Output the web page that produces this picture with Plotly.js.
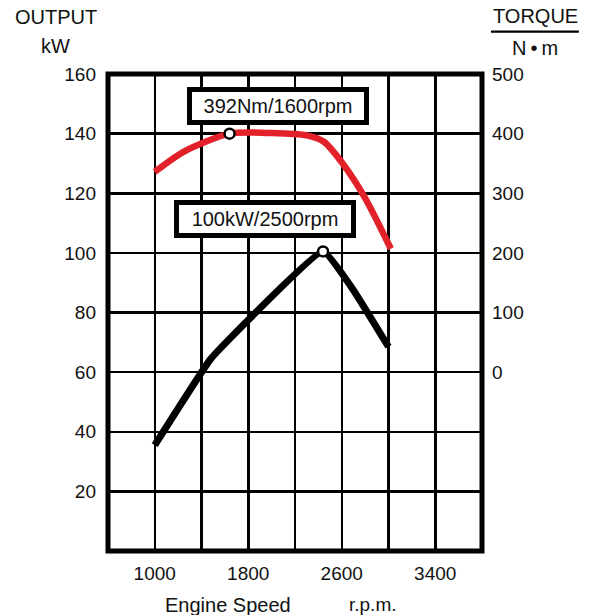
<!DOCTYPE html>
<html>
<head>
<meta charset="utf-8">
<script src="https://cdn.plot.ly/plotly-3.0.1.min.js"></script>
<style>html,body{margin:0;padding:0;background:#fff;}#chart{width:592px;height:615px;}</style>
</head>
<body>
<div id="chart"></div>
<script>
// Output curve (kW) vs engine speed (rpm)
const outputRpm = [1000, 1480, 1800, 2440, 2700, 3000];
const outputKw  = [35.5, 64.5, 77.5, 100.5, 87.5, 68.5];
// Torque curve (N·m) vs engine speed (rpm)
const torqueRpm = [1000, 1250, 1640, 2000, 2300, 2450, 2600, 2800, 3020];
const torqueNm  = [336, 370, 400, 401, 397, 386, 352, 292, 207];
// Peak points
const torquePeak = {rpm: 1640, nm: 400, label: "392Nm/1600rpm"};
const outputPeak = {rpm: 2440, kw: 100.5, label: "100kW/2500rpm"};
// Axis ticks
const xGridVals = [1000, 1400, 1800, 2200, 2600, 3000, 3400];
const xTickText = ["1000", "", "1800", "", "2600", "", "3400"];
const yLeftVals = [20, 40, 60, 80, 100, 120, 140, 160];
const yRightVals = [0, 100, 200, 300, 400, 500];

const FONT = "Liberation Sans, Arial, Helvetica, sans-serif";
const FS = 19;

const traces = [
  {x: torqueRpm, y: torqueNm, yaxis: "y2", mode: "lines",
   line: {color: "#e3212b", width: 6.5, shape: "spline", smoothing: 0.7}, hoverinfo: "none"},
  {x: outputRpm, y: outputKw, mode: "lines",
   line: {color: "#000", width: 7, shape: "spline", smoothing: 0.35}, hoverinfo: "none"},
  {x: [torquePeak.rpm], y: [torquePeak.nm], yaxis: "y2", mode: "markers",
   marker: {size: 10, color: "#fff", line: {color: "#000", width: 2.5}}, hoverinfo: "none"},
  {x: [outputPeak.rpm], y: [outputPeak.kw], mode: "markers",
   marker: {size: 10, color: "#fff", line: {color: "#000", width: 2.5}}, hoverinfo: "none"}
];

const boxAnn = (x, y, yref, text, ax, ay) => ({
  x: x, y: y, xref: "x", yref: yref, text: text, showarrow: true,
  arrowcolor: "rgba(0,0,0,0)", arrowwidth: 0.1, ax: ax, ay: ay,
  bgcolor: "#fff", bordercolor: "#000", borderwidth: 5, borderpad: 3,
  width: 166, font: {family: FONT, size: 20, color: "#111"}
});

const txt = (x, y, text, size) => ({
  x: x, y: y, xref: "paper", yref: "paper", text: text, showarrow: false,
  xanchor: "center", yanchor: "middle", font: {family: FONT, size: size || FS, color: "#111"}
});

const layout = {
  width: 592, height: 615,
  margin: {l: 108, r: 110, t: 74, b: 64},
  paper_bgcolor: "#fff", plot_bgcolor: "#fff",
  showlegend: false,
  font: {family: FONT, size: FS, color: "#111"},
  xaxis: {range: [600, 3800], tickvals: xGridVals, ticktext: xTickText,
          showgrid: true, gridcolor: "#000", gridwidth: 2.5, zeroline: false,
          ticks: "", ticklabelstandoff: 9, showline: false, fixedrange: true},
  yaxis: {range: [0, 160], tickvals: yLeftVals, showgrid: true, gridcolor: "#000", gridwidth: 2.5,
          zeroline: false, ticks: "", ticklabelstandoff: 11, showline: false, fixedrange: true},
  yaxis2: {range: [-300, 500], tickvals: yRightVals, overlaying: "y", side: "right",
           showgrid: false, zeroline: false, ticks: "", ticklabelstandoff: 9, showline: false, fixedrange: true},
  shapes: [
    {type: "rect", xref: "paper", yref: "paper", x0: 0, x1: 1, y0: 0, y1: 1,
     line: {color: "#000", width: 5}, layer: "above"},
    {type: "line", xref: "paper", yref: "paper", x0: 1.024, x1: 1.259, y0: 1.0887, y1: 1.0887,
     line: {color: "#000", width: 2.2}}
  ],
  annotations: [
    boxAnn(torquePeak.rpm, torquePeak.nm, "y2", torquePeak.label, 48, -28),
    boxAnn(outputPeak.rpm, outputPeak.kw, "y", outputPeak.label, -58, -32),
    txt(-0.140, 1.119, "OUTPUT", 20),
    txt(-0.140, 1.0587, "kW", 20),
    txt(1.143, 1.121, "TORQUE", 20),
    txt(1.141, 1.055, "N\u2009•\u2009m", 20),
    txt(0.321, -0.113, "Engine Speed", 20),
    txt(0.7086, -0.113, "r.p.m.", 19)
  ]
};

Plotly.newPlot("chart", traces, layout, {displayModeBar: false, staticPlot: true});
</script>
</body>
</html>
